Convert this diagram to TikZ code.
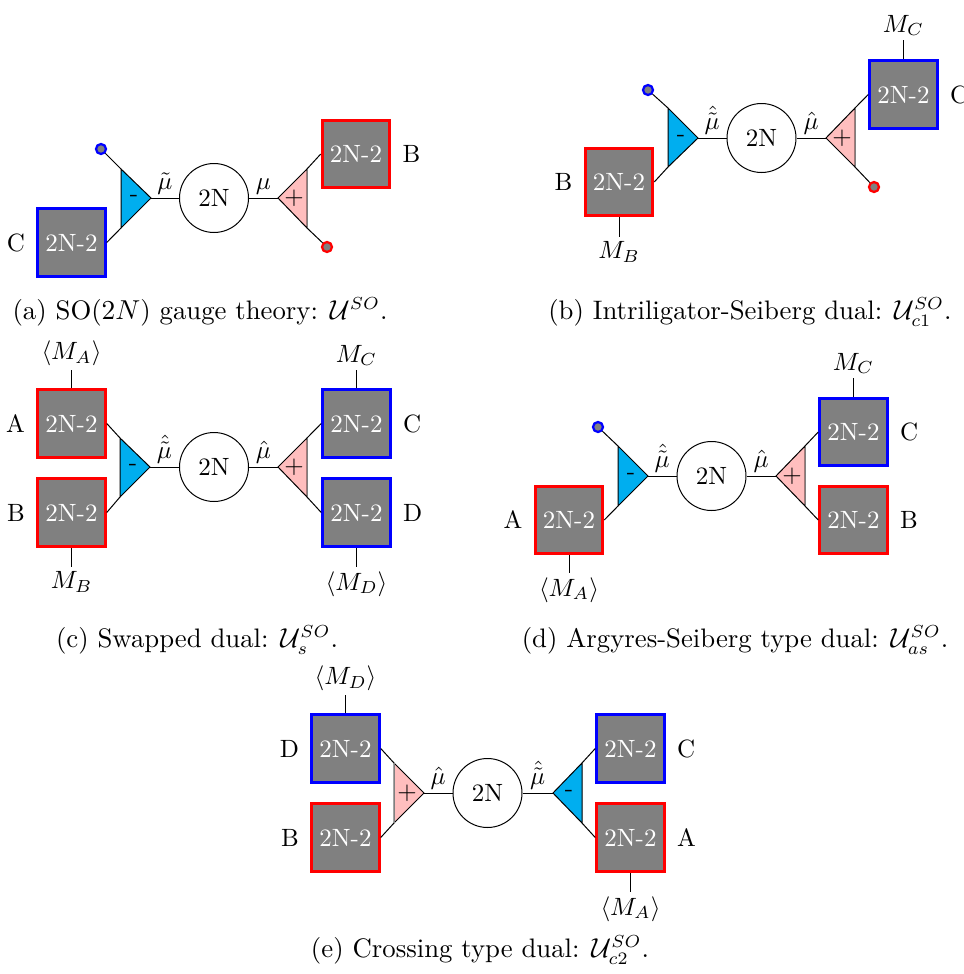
\documentclass[tikz,border=0pt]{standalone}
\usepackage{amssymb}
\usepackage{amsfonts}
\usepackage{xcolor}
\usepackage{mathtools}

\definecolor{negcol}{RGB}{0,174,239}
\definecolor{poscol}{RGB}{255,190,190}

\tikzset{
  flav/.style={draw, line width=1.2pt, fill=gray, text=white, minimum size=27pt, inner sep=0pt},
  flavR/.style={flav, draw=red},
  flavB/.style={flav, draw=blue},
  gauge/.style={circle, draw, thin, minimum size=27.6pt, inner sep=0pt},
  blob/.style={circle, line width=0.9pt, fill=gray, minimum size=4pt, inner sep=0pt},
  blobR/.style={blob, draw=red},
  blobB/.style={blob, draw=blue},
  negtri/.style={fill=negcol, draw=black, thin},
  postri/.style={fill=poscol, draw=black, thin},
  sgn/.style={inner sep=0pt},
  mulab/.style={above, inner sep=1.2pt},
  meson/.style={inner sep=1.5pt},
  capt/.style={font=\fontsize{10.7}{13}\selectfont, inner sep=0pt},
  every label/.style={label distance=1pt}
}

\begin{document}
\begin{tikzpicture}[x=0.4pt,y=0.4pt,yscale=-1,xscale=1]
\useasboundingbox (0,0) rectangle (964,974);

%Diagram (a)
\node[gauge] (a-g) at (214,198) {2N};
\coordinate (a-na) at (151,198); \coordinate (a-nt) at (121,169); \coordinate (a-nb) at (121,228);
\coordinate (a-pa) at (278,198); \coordinate (a-pt) at (307,169); \coordinate (a-pb) at (307,228);
\filldraw[negtri] (a-na) -- (a-nt) -- (a-nb) -- cycle;
\filldraw[postri] (a-pa) -- (a-pt) -- (a-pb) -- cycle;
\draw[gray] (a-pt) -- (a-pb);
\node[sgn] (a-ns) at (134,198) {-};
\node[sgn] (a-ps) at (294,198) {$+$};
\draw (a-na) -- node[mulab] {$\tilde{\mu}$} (a-g);
\draw (a-g) -- node[mulab] {$\mu$} (a-pa);
\node[blobB] (a-d1) at (101,149) {};
\node[blobR] (a-d2) at (327,247) {};
\draw (a-nt) -- (a-d1);
\draw (a-pb) -- (a-d2);
\node[flavB, label=left:C] (a-C) at (71.5,242.5) {2N-2};
\node[flavR, label=right:B] (a-B) at (356,154) {2N-2};
\draw (a-nb) -- (a-C.east);
\draw (a-pt) -- (a-B.west);
% Text Node
\node[capt] (a-cap) at (200,312) {(a) SO($2N$) gauge theory: $\mathcal{U}^{SO}$.};

%Diagram (b)
\node[gauge] (b-g) at (761.5,138) {2N};
\coordinate (b-na) at (698,138); \coordinate (b-nt) at (668,108); \coordinate (b-nb) at (668,167);
\coordinate (b-pa) at (826,138); \coordinate (b-pt) at (855,108); \coordinate (b-pb) at (855,167);
\filldraw[negtri] (b-na) -- (b-nt) -- (b-nb) -- cycle;
\filldraw[postri] (b-pa) -- (b-pt) -- (b-pb) -- cycle;
\draw[gray] (b-pt) -- (b-pb);
\node[sgn] (b-ns) at (681,138) {-};
\node[sgn] (b-ps) at (842,138) {$+$};
\draw (b-na) -- node[mulab] {$\hat{\tilde{\mu}}$} (b-g);
\draw (b-g) -- node[mulab] {$\hat{\mu}$} (b-pa);
\node[blobB] (b-d1) at (648,90) {};
\node[blobR] (b-d2) at (874,187) {};
\draw (b-nt) -- (b-d1);
\draw (b-pb) -- (b-d2);
\node[flavR, label=left:B] (b-B) at (619,182) {2N-2};
\node[flavB, label=right:C] (b-C) at (903.5,94.5) {2N-2};
\draw (b-nb) -- (b-B.east);
\draw (b-pt) -- (b-C.west);
\coordinate (b-mb) at (619,237);
\coordinate (b-mc) at (903.5,40);
\draw (b-B.south) -- (b-mb) node[below, meson] (b-MB) {$M_B$};
\draw (b-C.north) -- (b-mc) node[above, meson] (b-MC) {$M_C$};
% Text Node
\node[capt] (b-cap) at (750,312) {(b) Intriligator-Seiberg dual: $\mathcal{U}^{SO}_{c1}$.};

%Diagram (c)
\node[gauge] (c-g) at (214,467) {2N};
\coordinate (c-na) at (150,467); \coordinate (c-nt) at (120,438); \coordinate (c-nb) at (120,497);
\coordinate (c-pa) at (278,467); \coordinate (c-pt) at (307,438); \coordinate (c-pb) at (307,497);
\filldraw[negtri] (c-na) -- (c-nt) -- (c-nb) -- cycle;
\filldraw[postri] (c-pa) -- (c-pt) -- (c-pb) -- cycle;
\draw[gray] (c-pt) -- (c-pb);
\node[sgn] (c-ns) at (133,467) {-};
\node[sgn] (c-ps) at (294,467) {$+$};
\draw (c-na) -- node[mulab] {$\hat{\tilde{\mu}}$} (c-g);
\draw (c-g) -- node[mulab] {$\hat{\mu}$} (c-pa);
\node[flavR, label=left:A] (c-A) at (71.5,423.5) {2N-2};
\node[flavR, label=left:B] (c-B) at (71.5,512.5) {2N-2};
\node[flavB, label=right:C] (c-C) at (356.5,423.5) {2N-2};
\node[flavB, label=right:D] (c-D) at (356.5,512.5) {2N-2};
\draw (c-nt) -- (c-A.east);
\draw (c-nb) -- (c-B.east);
\draw (c-pt) -- (c-C.west);
\draw (c-pb) -- (c-D.west);
\coordinate (c-ma) at (71.5,370); \coordinate (c-mb) at (71.5,567);
\coordinate (c-mc) at (356.5,370); \coordinate (c-md) at (356.5,567);
\draw (c-A.north) -- (c-ma) node[above, meson] (c-MA) {$\langle M_A\rangle$};
\draw (c-B.south) -- (c-mb) node[below, meson] (c-MB) {$M_B$};
\draw (c-C.north) -- (c-mc) node[above, meson] (c-MC) {$M_C$};
\draw (c-D.south) -- (c-md) node[below, meson] (c-MD) {$\langle M_D\rangle$};
% Text Node
\node[capt] (c-cap) at (197,640) {(c) Swapped dual: $\mathcal{U}^{SO}_{s}$.};

%Diagram (d)
\node[gauge] (d-g) at (711.5,476) {2N};
\coordinate (d-na) at (648,476); \coordinate (d-nt) at (618,446); \coordinate (d-nb) at (618,506);
\coordinate (d-pa) at (776,476); \coordinate (d-pt) at (805,446); \coordinate (d-pb) at (805,506);
\filldraw[negtri] (d-na) -- (d-nt) -- (d-nb) -- cycle;
\filldraw[postri] (d-pa) -- (d-pt) -- (d-pb) -- cycle;
\draw[gray] (d-pt) -- (d-pb);
\node[sgn] (d-ns) at (631,476) {-};
\node[sgn] (d-ps) at (792,476) {$+$};
\draw (d-na) -- node[mulab] {$\hat{\tilde{\mu}}$} (d-g);
\draw (d-g) -- node[mulab] {$\hat{\mu}$} (d-pa);
\node[blobB] (d-d1) at (598,427) {};
\draw (d-nt) -- (d-d1);
\node[flavR, label=left:A] (d-A) at (569,520) {2N-2};
\node[flavB, label=right:C] (d-C) at (853.5,432) {2N-2};
\node[flavR, label=right:B] (d-B) at (853.5,520) {2N-2};
\draw (d-nb) -- (d-A.east);
\draw (d-pt) -- (d-C.west);
\draw (d-pb) -- (d-B.west);
\coordinate (d-ma) at (569,573); \coordinate (d-mc) at (853.5,378);
\draw (d-A.south) -- (d-ma) node[below, meson] (d-MA) {$\langle M_A\rangle$};
\draw (d-C.north) -- (d-mc) node[above, meson] (d-MC) {$M_C$};
% Text Node
\node[capt] (d-cap) at (735,640) {(d) Argyres-Seiberg type dual: $\mathcal{U}^{SO}_{as}$.};

%Diagram (e)
\node[gauge] (e-g) at (487.5,793) {2N};
\coordinate (e-pa) at (424,793); \coordinate (e-pt) at (394,763); \coordinate (e-pb) at (394,823);
\coordinate (e-na) at (553,793); \coordinate (e-nt) at (582,763); \coordinate (e-nb) at (582,823);
\filldraw[postri] (e-pa) -- (e-pt) -- (e-pb) -- cycle;
\filldraw[negtri] (e-na) -- (e-nt) -- (e-nb) -- cycle;
\draw[gray] (e-pt) -- (e-pb);
\node[sgn] (e-ps) at (407,793) {$+$};
\node[sgn] (e-ns) at (569,793) {-};
\draw (e-pa) -- node[mulab] {$\hat{\mu}$} (e-g);
\draw (e-g) -- node[mulab] {$\hat{\tilde{\mu}}$} (e-na);
\node[flavB, label=left:D] (e-D) at (345.5,748.5) {2N-2};
\node[flavR, label=left:B] (e-B) at (345.5,837.5) {2N-2};
\node[flavB, label=right:C] (e-C) at (630.5,748.5) {2N-2};
\node[flavR, label=right:A] (e-A) at (630.5,837.5) {2N-2};
\draw (e-D.east) -- (e-pt);
\draw (e-B.east) -- (e-pb);
\draw (e-nt) -- (e-C.west);
\draw (e-nb) -- (e-A.west);
\coordinate (e-md) at (345.5,695); \coordinate (e-ma) at (630.5,892);
\draw (e-D.north) -- (e-md) node[above, meson] (e-MD) {$\langle M_D\rangle$};
\draw (e-A.south) -- (e-ma) node[below, meson] (e-MA) {$\langle M_A\rangle$};
% Text Node
\node[capt] (e-cap) at (480,950) {(e) Crossing type dual: $\mathcal{U}^{SO}_{c2}$.};

\end{tikzpicture}
\end{document}
